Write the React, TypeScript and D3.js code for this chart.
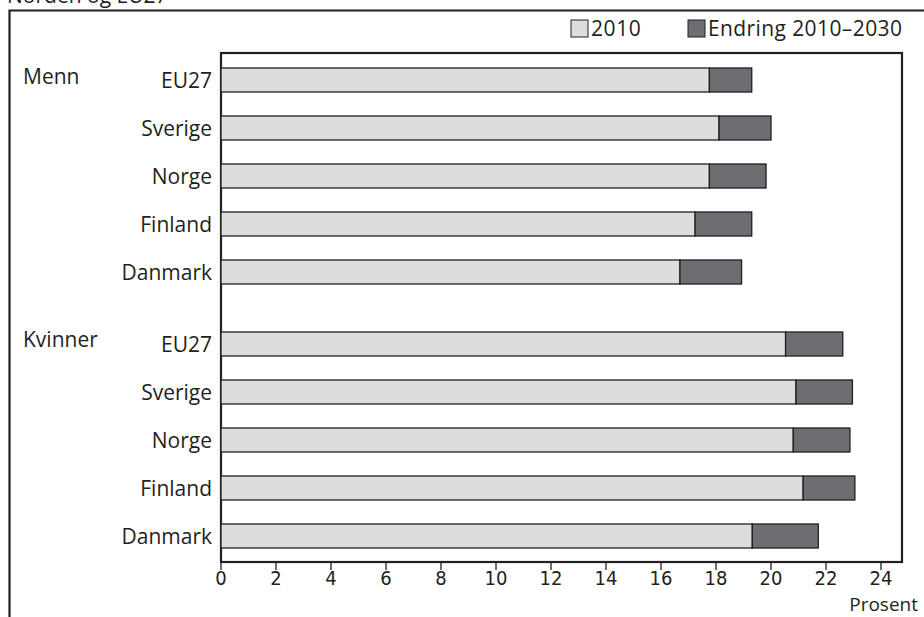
import React from "react";
import * as d3 from "d3";

const countries = ["EU27", "Sverige", "Norge", "Finland", "Danmark"];
const groups = ["Menn", "Kvinner"];
const menn2010 = [17.76, 18.11, 17.76, 17.24, 16.69];
const mennChange = [1.54, 1.89, 2.06, 2.06, 2.24];
const kvinner2010 = [20.53, 20.91, 20.81, 21.17, 19.32];
const kvinnerChange = [2.08, 2.05, 2.06, 1.88, 2.4];
const xTicks = [0, 2, 4, 6, 8, 10, 12, 14, 16, 18, 20, 22, 24];
const legendLabels = ["2010", "Endring 2010–2030"];
const title = "Norden og EU27";
const axisLabel = "Prosent";

const W = 924;
const H = 617;
const FONT = "'Open Sans', 'Noto Sans', sans-serif";
const LIGHT = "#dcdddf";
const DARK = "#6d6e71";
const INK = "#231f20";
const FS = 21;

export default function App() {
  const plotLeft = 221;
  const plotRight = 902;
  const plotTop = 53;
  const plotBottom = 562;
  const x = d3.scaleLinear().domain([0, 24]).range([plotLeft, 881]);
  const y = d3.scaleLinear().domain([0, 9.5]).range([80, 536]);
  const barH = 24;

  const rows: { group: string; country: string; base: number; change: number; pos: number }[] = [];
  countries.forEach((c, i) => rows.push({ group: groups[0], country: c, base: menn2010[i], change: mennChange[i], pos: i }));
  countries.forEach((c, i) => rows.push({ group: groups[1], country: c, base: kvinner2010[i], change: kvinnerChange[i], pos: 5.5 + i }));

  return (
    <svg width={W} height={H} style={{ position: "absolute", left: 0, top: 0, background: "#fff" }} fontFamily={FONT}>
      <rect x={0} y={0} width={W} height={H} fill="#fff" />
      <text x={7} y={3} fontSize={FS} fill={INK}>{title}</text>
      {/* outer frame */}
      <path d={`M9.5,${H} V10.5 H${W}`} fill="none" stroke={INK} strokeWidth={2.2} />
      {/* legend */}
      <rect x={571} y={20} width={17} height={17} fill={LIGHT} stroke={INK} strokeWidth={1} />
      <text x={591} y={36} fontSize={FS} fill={INK} letterSpacing={0.6}>{legendLabels[0]}</text>
      <rect x={688} y={20} width={17} height={17} fill={DARK} stroke={INK} strokeWidth={1} />
      <text x={708} y={36} fontSize={FS} fill={INK} letterSpacing={0.4}>{legendLabels[1]}</text>
      {/* plot frame */}
      <rect x={plotLeft} y={plotTop} width={plotRight - plotLeft} height={plotBottom - plotTop} fill="none" stroke={INK} strokeWidth={2.2} />
      {/* bars */}
      {rows.map((r, i) => {
        const cy = y(r.pos);
        return (
          <g key={i}>
            <rect x={x(0)} y={cy - barH / 2} width={x(r.base) - x(0)} height={barH} fill={LIGHT} stroke={INK} strokeWidth={1.3} />
            <rect x={x(r.base)} y={cy - barH / 2} width={x(r.base + r.change) - x(r.base)} height={barH} fill={DARK} stroke={INK} strokeWidth={1.3} />
            <text x={212} y={cy + 8} textAnchor="end" fontSize={FS} fill={INK}>{r.country}</text>
          </g>
        );
      })}
      <text x={23} y={84} fontSize={FS} fill={INK}>{groups[0]}</text>
      <text x={23} y={347} fontSize={FS} fill={INK}>{groups[1]}</text>
      {/* x axis */}
      {xTicks.map((t) => (
        <g key={t}>
          <line x1={x(t)} x2={x(t)} y1={plotBottom} y2={plotBottom + 8} stroke={INK} strokeWidth={1.3} />
          <text x={x(t)} y={585} textAnchor="middle" fontSize={20} fill={INK} fontFamily="'DejaVu Sans Condensed', 'Open Sans', sans-serif">{t}</text>
        </g>
      ))}
      <text x={918} y={611} textAnchor="end" fontSize={19} fill={INK}>{axisLabel}</text>
    </svg>
  );
}
